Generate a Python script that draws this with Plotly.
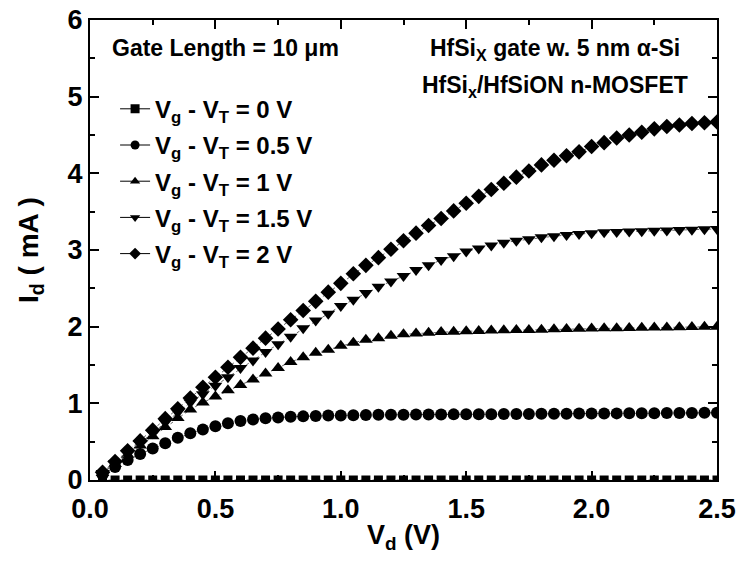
import plotly.graph_objects as go

# Drain voltage sweep (V)
vd = [0.05, 0.10, 0.15, 0.20, 0.25, 0.30, 0.35, 0.40, 0.45, 0.50,
      0.55, 0.60, 0.65, 0.70, 0.75, 0.80, 0.85, 0.90, 0.95, 1.00,
      1.05, 1.10, 1.15, 1.20, 1.25, 1.30, 1.35, 1.40, 1.45, 1.50,
      1.55, 1.60, 1.65, 1.70, 1.75, 1.80, 1.85, 1.90, 1.95, 2.00,
      2.05, 2.10, 2.15, 2.20, 2.25, 2.30, 2.35, 2.40, 2.45, 2.50]

# Drain current (mA) for each gate overdrive
id_0v = [0.0] * 50

id_05v = [0.07, 0.17, 0.26, 0.34, 0.41, 0.48, 0.55, 0.61, 0.66, 0.70,
          0.74, 0.77, 0.79, 0.805, 0.815, 0.825, 0.83, 0.835, 0.84, 0.842,
          0.845, 0.847, 0.85, 0.851, 0.852, 0.853, 0.854, 0.855, 0.856, 0.857,
          0.858, 0.859, 0.86, 0.861, 0.862, 0.863, 0.864, 0.865, 0.866, 0.867,
          0.868, 0.869, 0.87, 0.871, 0.872, 0.873, 0.874, 0.875, 0.876, 0.877]

id_1v = [0.09, 0.21, 0.33, 0.45, 0.57, 0.69, 0.81, 0.92, 1.01, 1.09,
         1.17, 1.24, 1.31, 1.39, 1.46, 1.54, 1.60, 1.66, 1.70, 1.75,
         1.79, 1.83, 1.85, 1.88, 1.90, 1.91, 1.92, 1.93, 1.935, 1.94,
         1.945, 1.95, 1.952, 1.955, 1.958, 1.96, 1.965, 1.97, 1.972, 1.975,
         1.978, 1.98, 1.983, 1.985, 1.988, 1.99, 1.993, 1.995, 1.998, 2.00]

id_15v = [0.09, 0.22, 0.35, 0.48, 0.61, 0.75, 0.88, 1.01, 1.12, 1.23,
          1.34, 1.46, 1.56, 1.67, 1.77, 1.87, 1.98, 2.08, 2.17, 2.27,
          2.35, 2.44, 2.52, 2.59, 2.66, 2.74, 2.80, 2.87, 2.92, 2.98,
          3.02, 3.06, 3.095, 3.12, 3.14, 3.165, 3.18, 3.195, 3.21, 3.22,
          3.23, 3.235, 3.24, 3.245, 3.25, 3.255, 3.26, 3.265, 3.27, 3.275]

id_2v = [0.10, 0.24, 0.38, 0.51, 0.65, 0.80, 0.93, 1.07, 1.21, 1.34,
         1.47, 1.60, 1.72, 1.85, 1.97, 2.09, 2.21, 2.33, 2.45, 2.565,
         2.69, 2.80, 2.90, 3.01, 3.12, 3.22, 3.32, 3.41, 3.51, 3.61,
         3.70, 3.79, 3.87, 3.95, 4.03, 4.11, 4.17, 4.23, 4.28, 4.35,
         4.40, 4.46, 4.50, 4.535, 4.58, 4.61, 4.63, 4.65, 4.66, 4.67]

labels = ["V<sub>g</sub> - V<sub>T</sub> = 0 V",
          "V<sub>g</sub> - V<sub>T</sub> = 0.5 V",
          "V<sub>g</sub> - V<sub>T</sub> = 1 V",
          "V<sub>g</sub> - V<sub>T</sub> = 1.5 V",
          "V<sub>g</sub> - V<sub>T</sub> = 2 V"]
series = [id_0v, id_05v, id_1v, id_15v, id_2v]
symbols = ["square", "circle", "triangle-up", "triangle-down", "diamond"]
sizes = [9, 12, 12, 12, 12]

x_ticks = [0.0, 0.5, 1.0, 1.5, 2.0, 2.5]
x_ticklabels = ["0.0", "0.5", "1.0", "1.5", "2.0", "2.5"]
y_ticks = [0, 1, 2, 3, 4, 5, 6]

FONT = "Liberation Sans, Arial, sans-serif"

fig = go.Figure()

# Measured curves: markers joined by a faint dotted line
for ys, sym, sz in zip(series, symbols, sizes):
    fig.add_trace(go.Scatter(
        x=vd, y=ys, mode="lines+markers", showlegend=False,
        line=dict(color="#666666", width=1, dash="dot"),
        marker=dict(symbol=sym, size=sz, color="black", line=dict(width=0)),
        cliponaxis=True,
    ))

# Legend entries drawn with a solid line through the symbol
for i, (lab, sym) in enumerate(zip(labels, symbols)):
    fig.add_trace(go.Scatter(
        x=[None], y=[None], mode="lines+markers", name=lab,
        legendgroup=f"g{i}",
        line=dict(color="black", width=1),
        marker=dict(symbol=sym, size=9, color="black"),
    ))

axis_common = dict(
    showline=True, linecolor="black", linewidth=2, mirror="allticks",
    ticks="inside", ticklen=9, tickwidth=1.5, tickcolor="black",
    showgrid=False, zeroline=False,
    tickfont=dict(family=FONT, size=27, color="black", weight="bold"),
)

fig.update_xaxes(
    range=[0, 2.5], tickvals=x_ticks, ticktext=x_ticklabels,
    ticklabelstandoff=4,
    minor=dict(dtick=0.25, ticks="inside", ticklen=5, tickwidth=1.5, tickcolor="black"),
    title=dict(text="V<sub>d</sub> (V)", standoff=2,
               font=dict(family=FONT, size=27, color="black", weight="bold")),
    **axis_common,
)
fig.update_yaxes(
    range=[0, 6], tickvals=y_ticks,
    minor=dict(dtick=0.5, ticks="inside", ticklen=5, tickwidth=1.5, tickcolor="black"),
    title=dict(text="I<sub>d</sub> ( mA )", standoff=21,
               font=dict(family=FONT, size=28, color="black", weight="bold")),
    **axis_common,
)

text_font = dict(family=FONT, size=23, color="black", weight="bold")
fig.add_annotation(x=0.032, y=0.94, xref="paper", yref="paper",
                   text="Gate Length = 10 \u03bcm", showarrow=False,
                   xanchor="left", yanchor="middle", font=text_font)
fig.add_annotation(x=0.742, y=0.935, xref="paper", yref="paper",
                   text="HfSi<sub>X</sub> gate w. 5 nm \u03b1-Si", showarrow=False,
                   xanchor="center", yanchor="middle", font=text_font)
fig.add_annotation(x=0.742, y=0.855, xref="paper", yref="paper",
                   text="HfSi<sub>x</sub>/HfSiON n-MOSFET", showarrow=False,
                   xanchor="center", yanchor="middle", font=text_font)

fig.update_layout(
    width=740, height=561,
    margin=dict(l=90, r=23, t=20, b=81, autoexpand=False),
    plot_bgcolor="white", paper_bgcolor="white",
    font=dict(family=FONT, color="black"),
    legend=dict(x=0.04, y=0.855, xanchor="left", yanchor="top",
                bgcolor="rgba(0,0,0,0)", tracegroupgap=2,
                font=dict(family=FONT, size=24, color="black", weight="bold")),
)

fig.write_html("out.html")
